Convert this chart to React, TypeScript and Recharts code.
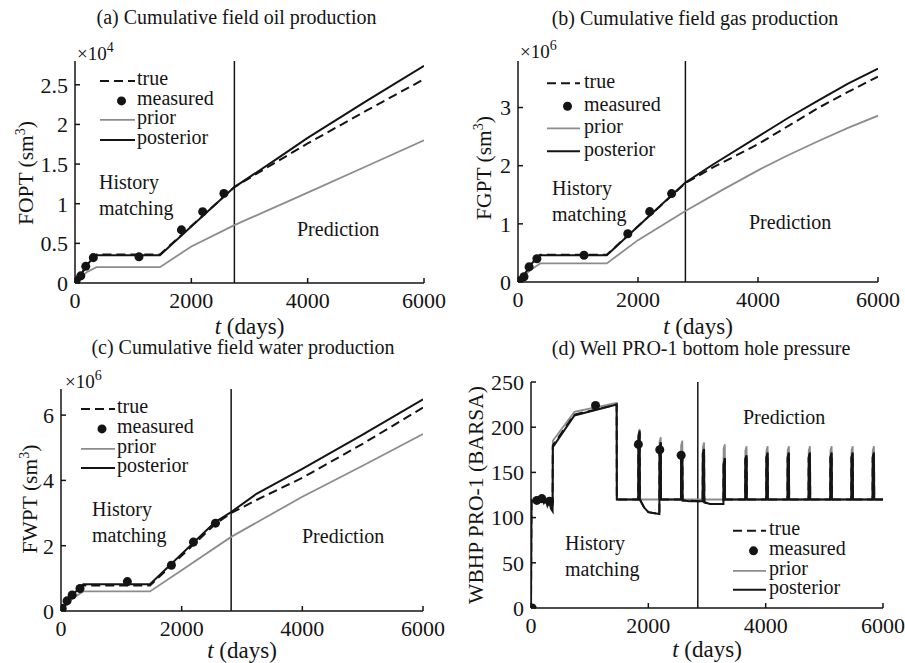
import { ComposedChart, Line, Scatter, XAxis, YAxis, ReferenceLine, Legend } from "recharts";

const SERIF = '"Liberation Serif", "Times New Roman", serif';
const INK = "#141414";
const GRAY = "#8c8c8c";

type Pt = [number, number];

const DAY_TICKS = [0, 2000, 4000, 6000];
const MEAS_DAYS = [20, 100, 185, 315, 1100, 1830, 2195, 2560];

// Cumulative field oil production, sm3
const FOPT_TRUE: Pt[] = [[0, 0], [100, 1000], [200, 2300], [300, 3250], [370, 3600], [1460, 3600], [2740, 12100], [3400, 15000], [4000, 17600], [5000, 21700], [6000, 25700]];
const FOPT_POST: Pt[] = [[0, 0], [100, 1000], [200, 2200], [300, 3100], [370, 3500], [1460, 3500], [2740, 12100], [3400, 15300], [4000, 18300], [5000, 22900], [6000, 27400]];
const FOPT_PRIOR: Pt[] = [[0, 0], [100, 700], [200, 1350], [370, 2000], [1460, 2000], [2000, 4600], [2740, 7300], [4000, 11400], [5000, 14700], [6000, 18000]];
const FOPT_MEAS = [300, 900, 2100, 3200, 3300, 6700, 9000, 11300];

// Cumulative field gas production, sm3
const FGPT_TRUE: Pt[] = [[0, 0], [100, 110000], [200, 270000], [300, 400000], [370, 470000], [1480, 470000], [2790, 1700000], [3250, 1970000], [4000, 2370000], [5000, 2990000], [5500, 3270000], [6000, 3530000]];
const FGPT_POST: Pt[] = [[0, 0], [100, 120000], [200, 280000], [300, 400000], [370, 460000], [1480, 460000], [2790, 1710000], [3250, 2020000], [4000, 2500000], [4500, 2820000], [5000, 3120000], [5500, 3410000], [6000, 3670000]];
const FGPT_PRIOR: Pt[] = [[0, 0], [100, 100000], [200, 200000], [370, 320000], [1480, 320000], [2000, 720000], [2790, 1220000], [3400, 1580000], [4000, 1920000], [4500, 2180000], [5000, 2420000], [5500, 2650000], [6000, 2860000]];
const FGPT_MEAS = [20000, 90000, 260000, 400000, 460000, 830000, 1210000, 1520000];

// Cumulative field water production, sm3
const FWPT_TRUE: Pt[] = [[0, 0], [100, 280000], [200, 500000], [300, 680000], [370, 780000], [1475, 780000], [2550, 2650000], [2820, 3000000], [3240, 3400000], [4000, 4080000], [5000, 5120000], [6000, 6230000]];
const FWPT_POST: Pt[] = [[0, 0], [100, 250000], [200, 500000], [300, 700000], [370, 820000], [1475, 820000], [2550, 2720000], [2820, 3030000], [3240, 3590000], [4000, 4350000], [5000, 5400000], [6000, 6480000]];
const FWPT_PRIOR: Pt[] = [[0, 0], [100, 200000], [200, 400000], [370, 600000], [1475, 600000], [2000, 1250000], [2820, 2270000], [4000, 3500000], [5000, 4450000], [6000, 5420000]];
const FWPT_MEAS = [80000, 310000, 490000, 690000, 900000, 1400000, 2110000, 2690000];

// Well PRO-1 bottom hole pressure, BARSA
const WBHP_TRUE: Pt[] = [
  [0, 0], [8, 120], [60, 119], [100, 120], [150, 118], [185, 121], [240, 118], [315, 118], [368, 110], [372, 180], [740, 214], [1460, 225], [1463, 120],
  [1828, 120], [1831, 188], [1852, 194], [1856, 120], [1930, 111], [2000, 106], [2188, 104], [2191, 178], [2212, 183], [2216, 120],
  [2556, 120], [2559, 168], [2580, 173], [2584, 119], [2926, 118], [2929, 171], [2950, 176], [2954, 117], [3050, 115], [3280, 115], [3283, 161], [3304, 166], [3308, 120],
  [3651, 120], [3654, 165], [3675, 170], [3679, 120], [4010, 120], [4013, 166], [4034, 171], [4038, 120],
  [4372, 120], [4375, 166], [4396, 171], [4400, 120], [4731, 120], [4734, 166], [4755, 171], [4759, 120],
  [5101, 120], [5104, 166], [5125, 171], [5129, 120], [5460, 120], [5463, 166], [5484, 171], [5488, 120],
  [5822, 120], [5825, 166], [5846, 171], [5850, 120], [6000, 120],
];
const WBHP_POST: Pt[] = [
  [0, 0], [8, 119], [40, 118], [70, 121], [100, 117], [130, 120], [160, 118], [190, 121], [220, 116], [250, 119], [280, 113], [310, 118], [340, 110], [368, 107], [372, 178], [740, 213], [1460, 225], [1463, 120],
  [1828, 120], [1831, 190], [1852, 196], [1856, 120], [1930, 111], [2000, 106], [2188, 104], [2191, 178], [2212, 183], [2216, 120],
  [2556, 120], [2559, 167], [2580, 172], [2584, 119], [2700, 118], [2926, 118], [2929, 170], [2950, 175], [2954, 117], [3050, 115], [3280, 115], [3283, 160], [3304, 165], [3308, 120],
  [3651, 120], [3654, 164], [3675, 169], [3679, 120], [4010, 120], [4013, 167], [4034, 172], [4038, 120],
  [4372, 120], [4375, 167], [4396, 172], [4400, 120], [4731, 120], [4734, 167], [4755, 172], [4759, 120],
  [5101, 120], [5104, 167], [5125, 172], [5129, 120], [5460, 120], [5463, 167], [5484, 172], [5488, 120],
  [5822, 120], [5825, 167], [5846, 172], [5850, 120], [6000, 120],
];
const WBHP_PRIOR: Pt[] = [
  [0, 0], [8, 120], [368, 118], [372, 185], [740, 217], [1460, 227], [1463, 120],
  [1828, 120], [1831, 192], [1852, 198], [1856, 120], [2188, 120], [2191, 184], [2212, 189], [2216, 120],
  [2556, 120], [2559, 180], [2580, 185], [2584, 120], [2926, 120], [2929, 178], [2950, 183], [2954, 120], [3280, 120], [3283, 176], [3304, 181], [3308, 120],
  [3651, 120], [3654, 174], [3675, 179], [3679, 120], [4010, 120], [4013, 174], [4034, 179], [4038, 120],
  [4372, 120], [4375, 174], [4396, 179], [4400, 120], [4731, 120], [4734, 174], [4755, 179], [4759, 120],
  [5101, 120], [5104, 174], [5125, 179], [5129, 120], [5460, 120], [5463, 174], [5484, 179], [5488, 120],
  [5822, 120], [5825, 174], [5846, 179], [5850, 120], [6000, 120],
];
const WBHP_MEAS = [0, 119, 121, 118, 224, 181, 175, 169];

const LEGEND_ITEMS = [
  { label: "true", kind: "dash" },
  { label: "measured", kind: "dot" },
  { label: "prior", kind: "gray" },
  { label: "posterior", kind: "solid" },
];

const toRows = (pts: Pt[]) => pts.map(([t, v]) => ({ t, v }));
const measRows = (vals: number[]) => vals.map((v, i) => ({ t: MEAS_DAYS[i], v }));

interface PanelSpec {
  box: [number, number, number, number];
  yMax: number;
  yTicks: number[];
  scale: number;
  exp?: string;
  expPos?: [number, number];
  split: number;
  title: string;
  titlePos: [number, number];
  xLabelY: number;
  yLabel: string;
  sup?: string;
  yLabelPos: [number, number];
  history: [number, number];
  prediction: [number, number];
  legend: { x: number; y: number; w: number; gap: number; textX: number };
  truth: Pt[];
  post: Pt[];
  prior: Pt[];
  meas: number[];
}

const PANELS: PanelSpec[] = [
  {
    box: [75, 61, 424, 283], yMax: 28000, yTicks: [0, 5000, 10000, 15000, 20000, 25000], scale: 1e4,
    exp: "4", expPos: [77, 52], split: 2740,
    title: "(a) Cumulative field oil production", titlePos: [236.5, 17], xLabelY: 326,
    yLabel: "FOPT (sm", sup: "3", yLabelPos: [26, 173],
    history: [99, 182], prediction: [297, 229],
    legend: { x: 100, y: 80.7, w: 35, gap: 19.8, textX: 137 },
    truth: FOPT_TRUE, post: FOPT_POST, prior: FOPT_PRIOR, meas: FOPT_MEAS,
  },
  {
    box: [518, 61, 878, 282], yMax: 3.8e6, yTicks: [0, 1e6, 2e6, 3e6], scale: 1e6,
    exp: "6", expPos: [520, 50], split: 2790,
    title: "(b) Cumulative field gas production", titlePos: [695, 18], xLabelY: 326,
    yLabel: "FGPT (sm", sup: "3", yLabelPos: [484, 168],
    history: [552, 188], prediction: [749, 222],
    legend: { x: 547, y: 83.3, w: 33, gap: 22.6, textX: 584 },
    truth: FGPT_TRUE, post: FGPT_POST, prior: FGPT_PRIOR, meas: FGPT_MEAS,
  },
  {
    box: [61, 389, 423, 611], yMax: 6.8e6, yTicks: [0, 2e6, 4e6, 6e6], scale: 1e6,
    exp: "6", expPos: [65, 380], split: 2820,
    title: "(c) Cumulative field water production", titlePos: [243, 347], xLabelY: 650,
    yLabel: "FWPT (sm", sup: "3", yLabelPos: [30, 499],
    history: [92, 509], prediction: [302, 536],
    legend: { x: 81, y: 409, w: 34, gap: 19.8, textX: 117 },
    truth: FWPT_TRUE, post: FWPT_POST, prior: FWPT_PRIOR, meas: FWPT_MEAS,
  },
  {
    box: [531, 382, 883, 608], yMax: 250, yTicks: [0, 50, 100, 150, 200, 250], scale: 1,
    split: 2843,
    title: "(d) Well PRO-1 bottom hole pressure", titlePos: [701, 348], xLabelY: 649,
    yLabel: "WBHP PRO-1 (BARSA)", yLabelPos: [477, 495],
    history: [565, 543], prediction: [743, 417],
    legend: { x: 733, y: 531, w: 33, gap: 19.7, textX: 769 },
    truth: WBHP_TRUE, post: WBHP_POST, prior: WBHP_PRIOR, meas: WBHP_MEAS,
  },
];

const axisStroke = { stroke: INK, strokeWidth: 1.5 };
const tickFont = { fill: INK, fontSize: 22, fontFamily: SERIF };

function LegendBox({ w, gap, textGap }: { w: number; gap: number; textGap: number }) {
  return (
    <div style={{ fontFamily: SERIF, fontSize: 20, color: INK }}>
      {LEGEND_ITEMS.map((item) => (
        <div key={item.label} style={{ display: "flex", alignItems: "center", height: gap, overflow: "visible" }}>
          <svg width={w} height={gap} style={{ flex: "none" }}>
            {item.kind === "dot" ? (
              <circle cx={w / 2 + 4} cy={gap / 2} r={4.5} fill={INK} />
            ) : (
              <line
                x1={0}
                x2={w}
                y1={gap / 2}
                y2={gap / 2}
                stroke={item.kind === "gray" ? GRAY : INK}
                strokeWidth={item.kind === "gray" ? 1.8 : 2}
                strokeDasharray={item.kind === "dash" ? "9 5" : undefined}
              />
            )}
          </svg>
          <span
            style={{
              display: "block",
              marginLeft: textGap,
              height: gap - 2,
              lineHeight: `${gap - 2}px`,
              position: "relative",
              top: -2,
            }}
          >
            {item.label}
          </span>
        </div>
      ))}
    </div>
  );
}

function Panel({ p }: { p: PanelSpec }) {
  const [x0, y0, x1, y1] = p.box;
  const left = x0 - 70;
  const top = y0 - 10;
  const width = x1 - x0 + 100;
  const height = y1 - y0 + 55;
  const lg = p.legend;
  const fmt = (v: number) => String(Math.round((v / p.scale) * 100) / 100);

  return (
    <div style={{ position: "absolute", left, top }}>
      <ComposedChart width={width} height={height} margin={{ top: 10, right: 30, bottom: 0, left: 0 }}>
        <XAxis
          xAxisId="b"
          dataKey="t"
          type="number"
          domain={[0, 6000]}
          ticks={DAY_TICKS}
          interval={0}
          height={45}
          tickSize={-5}
          tickMargin={14}
          axisLine={axisStroke}
          tickLine={axisStroke}
          tick={tickFont}
          allowDataOverflow
        />
        <XAxis
          xAxisId="top"
          orientation="top"
          type="number"
          domain={[0, 6000]}
          ticks={DAY_TICKS}
          interval={0}
          height={0}
          tickSize={-5}
          axisLine={axisStroke}
          tickLine={axisStroke}
          tick={false}
        />
        <YAxis
          yAxisId="l"
          type="number"
          domain={[0, p.yMax]}
          ticks={p.yTicks}
          interval={0}
          width={70}
          tickSize={-5}
          tickMargin={12}
          tickFormatter={fmt}
          axisLine={axisStroke}
          tickLine={axisStroke}
          tick={tickFont}
          allowDataOverflow
        />
        <YAxis
          yAxisId="r"
          orientation="right"
          type="number"
          domain={[0, p.yMax]}
          ticks={p.yTicks}
          interval={0}
          width={0}
          tickSize={-5}
          axisLine={axisStroke}
          tickLine={axisStroke}
          tick={false}
        />
        <ReferenceLine xAxisId="b" yAxisId="l" x={p.split} stroke={INK} strokeWidth={1.5} />
        <Line xAxisId="b" yAxisId="l" data={toRows(p.prior)} dataKey="v" name="prior" stroke={GRAY} strokeWidth={1.8} dot={false} isAnimationActive={false} />
        <Line xAxisId="b" yAxisId="l" data={toRows(p.truth)} dataKey="v" name="true" stroke={INK} strokeWidth={2} strokeDasharray="9 5" dot={false} isAnimationActive={false} />
        <Line xAxisId="b" yAxisId="l" data={toRows(p.post)} dataKey="v" name="posterior" stroke={INK} strokeWidth={2} dot={false} isAnimationActive={false} />
        <Scatter xAxisId="b" yAxisId="l" data={measRows(p.meas)} dataKey="v" name="measured" fill={INK} shape="circle" isAnimationActive={false} />
        <Legend
          layout="vertical"
          align="center"
          verticalAlign="middle"
          wrapperStyle={{ left: lg.x - left, top: lg.y - lg.gap / 2 - top, width: "auto", height: "auto" }}
          content={() => <LegendBox w={lg.w} gap={lg.gap} textGap={lg.textX - lg.x - lg.w} />}
        />
      </ComposedChart>
    </div>
  );
}

const abs = (x: number, y: number, extra: Record<string, unknown> = {}) =>
  ({ position: "absolute", left: x, top: y, lineHeight: 1, whiteSpace: "nowrap", ...extra }) as const;

function Annotations({ p }: { p: PanelSpec }) {
  const [x0, , x1] = p.box;
  return (
    <>
      <div style={abs(p.titlePos[0], p.titlePos[1], { fontSize: 20, transform: "translate(-50%, -50%)" })}>{p.title}</div>
      <div style={abs((x0 + x1) / 2, p.xLabelY, { fontSize: 23, transform: "translate(-50%, -50%)" })}>
        <i>t</i> (days)
      </div>
      <div style={abs(p.yLabelPos[0], p.yLabelPos[1], { fontSize: 21.5, transform: "translate(-50%, -50%) rotate(-90deg)" })}>
        {p.yLabel}
        {p.sup && (
          <>
            <sup style={{ fontSize: 14 }}>{p.sup}</sup>)
          </>
        )}
      </div>
      {p.exp && p.expPos && (
        <div style={abs(p.expPos[0], p.expPos[1], { fontSize: 19, transform: "translateY(-50%)" })}>
          ×10<sup style={{ fontSize: 14 }}>{p.exp}</sup>
        </div>
      )}
      <div style={abs(p.history[0], p.history[1], { fontSize: 20, transform: "translateY(-50%)" })}>History</div>
      <div style={abs(p.history[0], p.history[1] + 26, { fontSize: 20, transform: "translateY(-50%)" })}>matching</div>
      <div style={abs(p.prediction[0], p.prediction[1], { fontSize: 20, transform: "translateY(-50%)" })}>Prediction</div>
    </>
  );
}

export default function App() {
  return (
    <div
      style={{
        position: "absolute",
        left: 0,
        top: 0,
        width: 905,
        height: 663,
        overflow: "hidden",
        background: "#fff",
        color: INK,
        fontFamily: SERIF,
      }}
    >
      <style>{".recharts-surface { overflow: visible; }"}</style>
      {PANELS.map((p) => (
        <Panel key={p.title} p={p} />
      ))}
      {PANELS.map((p) => (
        <Annotations key={p.title} p={p} />
      ))}
    </div>
  );
}
